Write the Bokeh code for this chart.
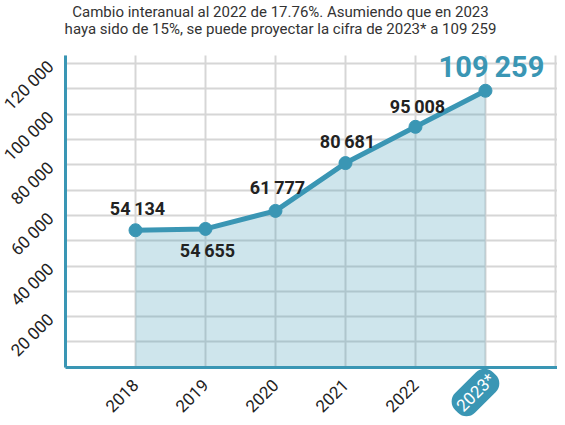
import numpy as np
from bokeh.plotting import figure
from bokeh.models import FixedTicker, Label, Range1d, LinearAxis
from bokeh.core.properties import value
from bokeh.embed import file_html
from bokeh.resources import INLINE

# ---- data ----
years = [2018, 2019, 2020, 2021, 2022, 2023]
year_labels = ["2018", "2019", "2020", "2021", "2022", "2023*"]
values = [54134, 54655, 61777, 80681, 95008, 109259]
y_ticks = [20000, 40000, 60000, 80000, 100000, 120000]
y_tick_labels = ["20 000", "40 000", "60 000", "80 000", "100 000", "120 000"]
title_lines = [
    "Cambio interanual al 2022 de 17.76%. Asumiendo que en 2023",
    "haya sido de 15%, se puede proyectar la cifra de 2023* a 109 259",
]

TEAL = "#3a96b4"
GRID = "#d6d6d6"
FONT = "Roboto"

X0, X1 = 2017, 2024.029     # chart area (axis origin .. right edge)
Y0, Y1 = 0, 123200


def fmt(v):
    return f"{v:,}".replace(",", "\u2009")


p = figure(width=557, height=417,
           x_range=Range1d(2016.0714, X1), y_range=Range1d(-19881, 144941),
           x_axis_location=None, y_axis_location=None,
           output_backend="svg", toolbar_location=None,
           min_border=0)
p.outline_line_color = None
p.background_fill_color = "white"
p.border_fill_color = "white"

# grids (limited to the chart area)
p.xgrid.ticker = FixedTicker(ticks=list(range(2017, 2025)))
p.ygrid.ticker = FixedTicker(ticks=[10000 * i for i in range(1, 13)])
p.xgrid.cross_bounds = (Y0, Y1)
p.ygrid.cross_bounds = (X0, X1)
for g in (p.xgrid, p.ygrid):
    g.grid_line_color = GRID
    g.grid_line_width = 2

# area, line, points
p.varea(x=years, y1=[0] * len(years), y2=values, fill_color=TEAL, fill_alpha=0.25)
p.line(years, values, line_width=5, line_color=TEAL)
p.scatter(years, values, size=13, fill_color=TEAL, line_color=TEAL)

# value labels
offs = [-22, 22, -23, -22, -20]
p.text(x=years[:5], y=values[:5], text=[fmt(v) for v in values[:5]],
       x_offset=2, y_offset=offs, text_align="center", text_baseline="middle",
       text_font=value(FONT), text_font_style="bold", text_font_size="18px",
       text_color="#222222")
p.text(x=years[5:], y=values[5:], text=[fmt(v) for v in values[5:]],
       x_offset=6, y_offset=-24, text_align="center", text_baseline="middle",
       text_font=value(FONT), text_font_style="bold", text_font_size="29px",
       text_color=TEAL)

# axes placed inside the frame
xaxis = LinearAxis(fixed_location=0, bounds=(X0, X1))
yaxis = LinearAxis(fixed_location=X0, bounds=(Y0, Y1))
xaxis.ticker = FixedTicker(ticks=years)
xaxis.major_label_overrides = {y: (lab if not lab.endswith("*") else "")
                               for y, lab in zip(years, year_labels)}
yaxis.ticker = FixedTicker(ticks=y_ticks)
yaxis.major_label_overrides = dict(zip(y_ticks, y_tick_labels))
for ax in (xaxis, yaxis):
    ax.major_label_orientation = np.pi / 4
    ax.axis_line_color = TEAL
    ax.axis_line_width = 3
    ax.major_tick_line_color = None
    ax.minor_tick_line_color = None
    ax.major_label_text_font = FONT
    ax.major_label_text_font_size = "17px"
    ax.major_label_text_color = "#222222"
xaxis.major_label_standoff = 9
yaxis.major_label_standoff = 9
p.add_layout(xaxis, "below")
p.add_layout(yaxis, "left")

# highlighted projected year label
p.add_layout(Label(x=years[5], y=25, y_units="screen", x_offset=-10,
                   text=year_labels[5], angle=np.pi / 4,
                   text_align="center", text_baseline="middle",
                   text_font=FONT, text_font_size="17px", text_color="white",
                   background_fill_color=TEAL, border_radius=12, padding=4))

# title lines
for i, line in enumerate(title_lines):
    p.add_layout(Label(x=280, y=406 - 17 * i, x_units="screen", y_units="screen",
                       text=line, text_align="center", text_baseline="middle",
                       text_font=FONT, text_font_size="15px", text_color="#333333"))

open("out.html", "w").write(file_html(p, INLINE))
